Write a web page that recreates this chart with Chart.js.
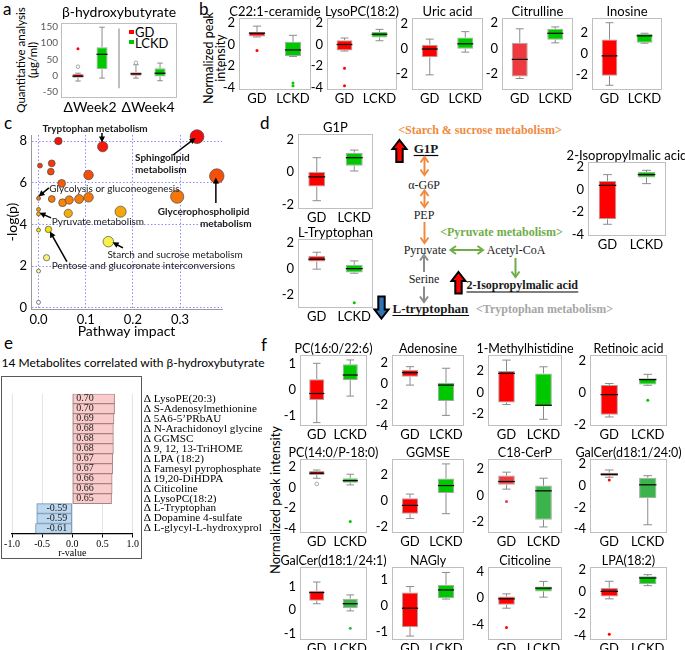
<!DOCTYPE html>
<html>
<head>
<meta charset="utf-8">
<script src="https://cdn.jsdelivr.net/npm/chart.js@4.4.1/dist/chart.umd.min.js"></script>
<style>
  html, body { margin: 0; padding: 0; background: #fff; }
  #page { position: relative; width: 685px; height: 650px; overflow: hidden; font-family: Lato, "Open Sans", sans-serif; color: #000; }
  #page canvas { position: absolute; }
  .lbl { position: absolute; white-space: nowrap; line-height: 1; }
  .letter { font-size: 17px; }
  .rot { transform: translate(-50%, -50%) rotate(-90deg); text-align: center; font-size: 13px; }
  #pathway { position: absolute; left: 0; top: 0; pointer-events: none; }
</style>
</head>
<body>
<div id="page">
  <div class="lbl letter" style="left:3px;top:0px">a</div>
  <div class="lbl letter" style="left:199px;top:0px">b</div>
  <div class="lbl letter" style="left:4px;top:114px">c</div>
  <div class="lbl letter" style="left:260px;top:114px">d</div>
  <div class="lbl letter" style="left:4px;top:334px">e</div>
  <div class="lbl letter" style="left:261px;top:336px">f</div>

  <!-- legend of panel a -->
  <div class="lbl" style="left:129px;top:30px;width:5px;height:4px;background:#ff0000"></div>
  <div class="lbl" style="left:135px;top:26px;font-size:13px">GD</div>
  <div class="lbl" style="left:129px;top:40px;width:5px;height:4px;background:#00c800"></div>
  <div class="lbl" style="left:135px;top:36.5px;font-size:13px">LCKD</div>

  <div class="lbl rot" style="left:27px;top:60px;line-height:12px;font-size:11.5px">Quantitative analysis<br>(μg/ml)</div>
  <div class="lbl rot" style="left:215px;top:58px;line-height:12px;font-size:12.5px">Normalized peak<br>intensity</div>
  <div class="lbl rot" style="left:275px;top:500px">Normalized peak intensity</div>
  <div class="lbl" style="left:133px;top:363px;transform:translate(-50%,-50%);font-size:12px">14 Metabolites correlated with β-hydroxybutyrate</div>
  <div class="lbl" style="left:1px;top:376px;width:139px;height:181px;border:1.5px solid #595959"></div>

  <svg id="pathway" width="685" height="650"></svg>
</div>

<script>
Chart.defaults.font.family = 'Lato, "Open Sans", sans-serif';
Chart.defaults.color = '#000';

const SERIF = '"Liberation Serif", "Times New Roman", serif';
const RED = '#ff0000', GREEN = '#00c800';
const GROUPS = ['GD', 'LCKD'];

// box stats are [min, q1, median, q3, max]

// ---- a: beta-hydroxybutyrate
const aWeeks = ['ΔWeek2', 'ΔWeek4'];
const aYTicks = [-50, 0, 50, 100, 150];
const aGD = [[-16, -6, -1, 6, 8], [-7, 0, 6, 11, 34]];
const aLCKD = [[-7, 20, 66, 88, 149], [-15, -2, 8, 23, 39]];
const aGDOut = [[83], []];
const aGDMild = [[28], [40]];

// ---- b
const bTitles = ['C22:1-ceramide', 'LysoPC(18:2)', 'Uric acid', 'Citrulline', 'Inosine'];
const bGD = [[0.7, 0.75, 1.05, 1.15, 1.7], [-0.6, -0.55, 0, 0.4, 0.6], [-2.08, -0.67, 0, 0.35, 0.8],
             [-2.35, -2.2, -0.85, 0.45, 1.55], [-2.95, -2.05, -0.15, 1.4, 3.0]];
const bLCKD = [[-1.1, -1.05, -0.5, 0.25, 0.85], [0.35, 0.65, 0.95, 1.15, 1.4], [-0.25, 0.02, 0.42, 0.93, 1.4],
               [0.45, 0.7, 1.2, 1.55, 1.7], [1.05, 1.1, 1.75, 1.95, 2.0]];
const bGDOut = [[-0.55], [-2.2, -3.8], [], [], []];
const bLCKDOut = [[-3.55, -3.8], [], [], [], []];
const bYTicks = [[-4, -2, 0, 2], [-4, -2, 0, 2], [-2, 0, 2], [-2, 0, 2], [-2, 0, 2]];

// ---- c: pathway analysis
const cImpact = [0.042, 0.136, 0.336, 0.378, 0.003, 0.028, 0.026, 0.049, 0.106, 0, 0.028, 0.051, 0.065,
                 0.086, 0.106, 0.294, 0.063, 0.174, 0, 0, 0, 0.021, 0.148, 0.017, 0, 0];
const cLogP = [8.0, 7.73, 8.21, 6.32, 6.82, 6.93, 6.53, 5.97, 6.37, 5.25, 5.22, 5.04, 5.17,
               5.22, 5.30, 5.33, 4.53, 4.61, 4.72, 4.50, 3.73, 3.76, 3.17, 2.40, 1.76, 0.26];
const cXTicks = [0, 0.1, 0.2, 0.3];
const cYTicks = [0, 2, 4, 6, 8];
const cNotes = [
  { lines: ['Tryptophan metabolism'], at: [0.12, 8.61], align: 'center', bold: true, from: [0.1345, 8.39], to: [0.1345, 7.93] },
  { lines: ['Sphingolipid', 'metabolism'], at: [0.2045, 7.2], align: 'left', bold: true, from: [0.285, 7.33], to: [0.333, 8.15] },
  { lines: ['Glycerophospholipid'], at: [0.253, 4.61], align: 'left', bold: true, from: [0.376, 5.03], to: [0.376, 6.25] },
  { lines: ['metabolism'], at: [0.4517, 4.02], align: 'right', bold: true },
  { lines: ['Glycolysis or gluconeogenesis'], at: [0.0229, 5.73], align: 'left', from: [0.022, 5.75], to: [0.0, 5.34] },
  { lines: ['Pyruvate metabolism'], at: [0.028, 4.13], align: 'left', from: [0.0265, 4.31], to: [0.002, 4.56] },
  { lines: ['Starch and sucrose metabolism'], at: [0.146, 2.56], align: 'left', from: [0.179, 2.87], to: [0.157, 3.14] },
  { lines: ['Pentose and glucoronate interconversions'], at: [0.028, 2.0], align: 'left', from: [0.06, 2.21], to: [0.024, 3.66] }
];

// ---- d
const dTitles = ['G1P', 'L-Tryptophan', '2-Isopropylmalic acid'];
const dGD = [[-1.77, -0.9, -0.3, 0.0, 0.88], [-0.04, 0.54, 0.72, 0.97, 1.25], [-3.07, -2.63, 0.35, 0.73, 1.29]];
const dLCKD = [[0.06, 0.39, 0.88, 1.19, 1.35], [-0.35, -0.3, 0, 0.29, 0.59], [0.5, 1.03, 1.29, 1.52, 1.67]];
const dLCKDOut = [[], [-2.6], []];
const dYTicks = [[-2, 0, 2], [-2, 0, 2], [-4, -2, 0, 2]];

// ---- e
const eLabels = ['Δ LysoPE(20:3)', 'Δ S-Adenosylmethionine', 'Δ 5A6-5’PRbAU', 'Δ N-Arachidonoyl glycine', 'Δ GGMSC',
  'Δ 9, 12, 13-TriHOME', 'Δ LPA (18:2)', 'Δ Farnesyl pyrophosphate', 'Δ 19,20-DiHDPA', 'Δ Citicoline',
  'Δ LysoPC(18:2)', 'Δ L-Tryptophan', 'Δ Dopamine 4-sulfate', 'Δ L-glycyl-L-hydroxyproline'];
const eR = [0.70, 0.70, 0.69, 0.68, 0.68, 0.68, 0.67, 0.67, 0.66, 0.66, 0.65, -0.59, -0.59, -0.61];

// ---- f
const fTitles = ['PC(16:0/22:6)', 'Adenosine', '1-Methylhistidine', 'Retinoic acid', 'PC(14:0/P-18:0)', 'GGMSE',
  'C18-CerP', 'GalCer(d18:1/24:0)', 'GalCer(d18:1/24:1)', 'NAGly', 'Citicoline', 'LPA(18:2)'];
const fGD = [[-1.27, -0.4, -0.15, 0.4, 1.01], [-0.14, 0.65, 1.03, 1.29, 1.6], [-1.13, -0.94, 1.8, 2.02, 3.05],
  [-1.52, -1.38, -0.13, 0.46, 0.56], [0.88, 1.2, 1.37, 1.59, 1.68], [-1.38, -1.0, -0.36, 0.2, 0.52],
  [0.47, 0.8, 1.05, 1.5, 1.76], [0.8, 0.92, 1.07, 1.22, 1.47], [0.27, 0.4, 0.74, 0.81, 1.18],
  [-1.17, -0.83, -0.1, 0.5, 0.73], [-1.5, -1.0, -0.1, 0.24, 0.64], [-0.6, -0.38, 0.08, 0.39, 1.0]];
const fLCKD = [[-0.25, 0.37, 0.56, 0.97, 1.14], [-3.0, -1.64, -0.14, 0.08, 1.45], [-2.52, -1.29, -1.2, 1.8, 2.42],
  [0.45, 0.5, 0.8, 0.88, 1.13], [0.24, 0.46, 0.65, 0.88, 1.27], [-1.0, 0.6, 1.18, 1.72, 2.86],
  [-2.4, -1.86, 0.34, 0.74, 1.3], [-3.58, -1.13, 0.1, 0.76, 0.94], [-0.03, 0.08, 0.27, 0.48, 0.64],
  [0.25, 0.28, 0.6, 0.8, 1.27], [0.15, 1.0, 1.5, 1.75, 2.5], [0.6, 0.75, 1.3, 1.45, 1.6]];
const fGDOut = [[], [], [], [], [], [], [-0.47], [0.55], [], [], [-4.4], [-3.83]];
const fGDMild = [[], [], [], [], [0.34], [], [], [], [], [], [], []];
const fLCKDOut = [[], [], [], [-0.48], [-3.3], [], [], [], [-0.76], [], [], []];
const fYTicks = [[-1, 0, 1], [-4, -2, 0, 2], [-2, 0, 2], [-2, 0, 2], [-4, -2, 0, 2], [-2, 0, 2],
  [-2, 0, 2], [-4, -2, 0, 2], [-1, 0, 1], [-1, 0, 1], [-4, 0, 4], [-4, -2, 0, 2]];

// ---------- layout (pixel frames of plot areas and axis limits)
const B_FRAMES = [[239, 18, 311, 90], [327, 18, 397, 90], [412, 18, 483, 90], [502, 18, 573, 90], [592, 18, 662, 90]];
const B_RANGE = [[-4.2, 2.45], [-4.2, 2.45], [-3.3, 2.5], [-3.25, 2.4], [-3.4, 3.45]];
const D_FRAMES = [[298, 134, 373, 209], [298, 239, 373, 308], [588, 162, 666, 236]];
const D_RANGE = [[-2.28, 2.34], [-3.0, 2.26], [-4.1, 2.4]];
const F_ROWS = [[355, 426], [459, 533], [567, 640]];
const F_COLS = [[300, 367], [392, 464], [488, 562], [590, 667]];
const F_RANGE = [[-1.4, 1.33], [-4.0, 2.7], [-3.15, 3.53], [-2.08, 2.33], [-4.4, 2.74], [-2.5, 3.24],
  [-2.86, 2.76], [-4.34, 2.48], [-1.25, 1.81], [-1.32, 1.48], [-6.25, 4.65], [-4.35, 2.3]];
const F_COLORS = { 6: ['#ee3a3e', '#3cb44b'], 7: [RED, '#3cb44b'], 8: [RED, '#3cb44b'] };

function addCanvas(left, top, w, h) {
  const cv = document.createElement('canvas');
  cv.width = Math.round(w); cv.height = Math.round(h);
  cv.style.left = Math.round(left) + 'px'; cv.style.top = Math.round(top) + 'px';
  cv.style.width = Math.round(w) + 'px'; cv.style.height = Math.round(h) + 'px';
  document.getElementById('page').appendChild(cv);
  return cv;
}

// draws whiskers, medians, outliers, the frame and the panel title on top of the floating bars
const boxPlugin = {
  id: 'boxes',
  afterDatasetsDraw(chart, args, opts) {
    const { ctx, chartArea: a } = chart;
    const y = chart.scales.y, xs = chart.scales.x;
    const py = v => y.getPixelForValue(v);
    ctx.save();
    if (opts.frame) {
      ctx.strokeStyle = '#bfbfbf'; ctx.lineWidth = 1;
      ctx.strokeRect(Math.round(a.left) + 0.5, Math.round(a.top) + 0.5, Math.round(a.width) - 1, Math.round(a.height) - 1);
    }
    if (opts.sep) {
      ctx.strokeStyle = '#bfbfbf'; ctx.lineWidth = 2;
      const sx = xs.getPixelForValue(0.5);
      ctx.beginPath(); ctx.moveTo(sx, py(opts.sep[0])); ctx.lineTo(sx, py(opts.sep[1])); ctx.stroke();
    }
    chart.data.datasets.forEach((ds, di) => {
      chart.getDatasetMeta(di).data.forEach((bar, i) => {
        const s = ds.stats[i];
        const x = bar.x, w = bar.width, cap = w * 0.5;
        ctx.strokeStyle = '#8c8c8c'; ctx.lineWidth = 1;
        ctx.beginPath();
        ctx.moveTo(x, py(s[4])); ctx.lineTo(x, py(s[3]));
        ctx.moveTo(x, py(s[1])); ctx.lineTo(x, py(s[0]));
        ctx.moveTo(x - cap / 2, py(s[4])); ctx.lineTo(x + cap / 2, py(s[4]));
        ctx.moveTo(x - cap / 2, py(s[0])); ctx.lineTo(x + cap / 2, py(s[0]));
        ctx.stroke();
        ctx.strokeStyle = '#000'; ctx.lineWidth = 1.2;
        ctx.beginPath(); ctx.moveTo(x - w / 2, py(s[2])); ctx.lineTo(x + w / 2, py(s[2])); ctx.stroke();
        ctx.fillStyle = Array.isArray(ds.backgroundColor) ? ds.backgroundColor[i] : ds.backgroundColor;
        ((ds.outliers && ds.outliers[i]) || []).forEach(v => {
          ctx.beginPath(); ctx.arc(x, py(v), 1.5, 0, Math.PI * 2); ctx.fill();
        });
        ctx.strokeStyle = '#a6a6a6'; ctx.lineWidth = 1;
        ((ds.mild && ds.mild[i]) || []).forEach(v => {
          ctx.beginPath(); ctx.arc(x, py(v), 1.8, 0, Math.PI * 2); ctx.stroke();
        });
      });
    });
    if (opts.title) {
      ctx.fillStyle = '#000';
      ctx.font = (opts.size || 13) + 'px Lato, "Open Sans", sans-serif';
      ctx.textAlign = 'center'; ctx.textBaseline = 'middle';
      ctx.fillText(opts.title, (a.left + a.right) / 2, a.top - (opts.gap || 6.5));
    }
    ctx.restore();
  }
};

function axisY(range, ticks, width, font, color, pad) {
  return {
    min: range[0], max: range[1],
    afterBuildTicks: s => { s.ticks = ticks.map(v => ({ value: v })); },
    grid: { display: false, drawTicks: false }, border: { display: false },
    ticks: { font: font || { size: 13 }, color: color || '#000', padding: pad || 4 },
    afterFit: s => { s.width = width; }
  };
}

function axisX(size, height) {
  return {
    grid: { display: false, drawTicks: false }, border: { display: false },
    ticks: { font: { size }, color: '#000', padding: 1, autoSkip: false, maxRotation: 0, minRotation: 0 },
    afterFit: s => { s.height = height; }
  };
}

function boxChart(o) {
  const YW = 26, TOP = 16, XH = 18, EX = 30;
  const [l, t, r, b] = o.frame;
  const cv = addCanvas(l - YW - EX, t - TOP, r - l + YW + 2 * EX, b - t + TOP + XH);
  const colors = o.colors || [RED, GREEN];
  return new Chart(cv, {
    type: 'bar',
    data: {
      labels: GROUPS,
      datasets: [{
        data: [[o.gd[1], o.gd[3]], [o.lckd[1], o.lckd[3]]],
        stats: [o.gd, o.lckd],
        outliers: [o.gdOut || [], o.lckdOut || []],
        mild: [o.gdMild || [], []],
        backgroundColor: colors,
        borderColor: '#a6a6a6', borderWidth: 1, borderSkipped: false,
        barPercentage: 0.45, categoryPercentage: 1
      }]
    },
    options: {
      responsive: false, animation: false, devicePixelRatio: 1,
      layout: { padding: { top: TOP, right: EX, left: EX, bottom: 0 } },
      plugins: { legend: { display: false }, tooltip: { enabled: false }, boxes: { title: o.title, frame: true, size: o.size } },
      scales: { x: axisX(13, XH), y: axisY(o.range, o.ticks, YW) }
    },
    plugins: [boxPlugin]
  });
}

// ---------- a
new Chart(addCanvas(0, 0, 180, 115), {
  type: 'bar',
  data: {
    labels: aWeeks,
    datasets: [
      { label: 'GD', data: aGD.map(s => [s[1], s[3]]), stats: aGD, outliers: aGDOut, mild: aGDMild,
        backgroundColor: RED, borderColor: '#a6a6a6', borderWidth: 1, borderSkipped: false,
        barPercentage: 0.46, categoryPercentage: 0.83 },
      { label: 'LCKD', data: aLCKD.map(s => [s[1], s[3]]), stats: aLCKD,
        backgroundColor: GREEN, borderColor: '#a6a6a6', borderWidth: 1, borderSkipped: false,
        barPercentage: 0.46, categoryPercentage: 0.83 }
    ]
  },
  options: {
    responsive: false, animation: false, devicePixelRatio: 1,
    layout: { padding: { top: 23, right: 3 } },
    plugins: { legend: { display: false }, tooltip: { enabled: false },
      boxes: { title: 'β-hydroxybutyrate', frame: true, size: 14, gap: 11, sep: [145, -38] } },
    scales: { x: axisX(14, 17), y: axisY([-68, 162], aYTicks, 61, { size: 10 }, '#595959', 3) }
  },
  plugins: [boxPlugin]
});

// ---------- b
bTitles.forEach((title, i) => boxChart({
  frame: B_FRAMES[i], title, gd: bGD[i], lckd: bLCKD[i], gdOut: bGDOut[i], lckdOut: bLCKDOut[i],
  range: B_RANGE[i], ticks: bYTicks[i], colors: i === 3 ? ['#ee3a3e', GREEN] : null
}));

// ---------- d boxplots
dTitles.forEach((title, i) => boxChart({
  frame: D_FRAMES[i], title, gd: dGD[i], lckd: dLCKD[i], lckdOut: dLCKDOut[i],
  range: D_RANGE[i], ticks: dYTicks[i]
}));

// ---------- f
fTitles.forEach((title, i) => {
  const row = Math.floor(i / 4), col = i % 4;
  boxChart({
    frame: [F_COLS[col][0], F_ROWS[row][0], F_COLS[col][1], F_ROWS[row][1]], title, size: 12.5,
    gd: fGD[i], lckd: fLCKD[i], gdOut: fGDOut[i], gdMild: fGDMild[i], lckdOut: fLCKDOut[i],
    range: F_RANGE[i], ticks: fYTicks[i], colors: F_COLORS[i]
  });
});

// ---------- c
function heat(v) {
  const ys = [8.2, 6.9, 5.25, 4.6, 3.7], hs = [0, 12, 28, 40, 56];
  let h = 0, l = 50;
  if (v >= ys[0]) h = 0;
  else if (v >= ys[ys.length - 1]) {
    for (let i = 0; i < ys.length - 1; i++) {
      if (v <= ys[i] && v >= ys[i + 1]) h = hs[i] + (hs[i + 1] - hs[i]) * (ys[i] - v) / (ys[i] - ys[i + 1]);
    }
  } else { h = 58; l = Math.min(100, 55 + (3.7 - v) * 14); }
  return 'hsl(' + h + ', 92%, ' + l + '%)';
}

const notesPlugin = {
  id: 'notes',
  afterDraw(chart) {
    const { ctx, scales: { x, y } } = chart;
    ctx.save();
    ctx.fillStyle = '#1a1a1a'; ctx.strokeStyle = '#000'; ctx.lineWidth = 1.5;
    cNotes.forEach(n => {
      ctx.font = (n.bold ? 'bold ' : '') + '10px Lato, "Open Sans", sans-serif';
      ctx.textAlign = n.align; ctx.textBaseline = 'middle';
      n.lines.forEach((ln, k) => ctx.fillText(ln, x.getPixelForValue(n.at[0]), y.getPixelForValue(n.at[1]) + k * 11.6));
      if (n.from) {
        const x1 = x.getPixelForValue(n.from[0]), y1 = y.getPixelForValue(n.from[1]);
        const x2 = x.getPixelForValue(n.to[0]), y2 = y.getPixelForValue(n.to[1]);
        const ang = Math.atan2(y2 - y1, x2 - x1);
        ctx.beginPath(); ctx.moveTo(x1, y1); ctx.lineTo(x2 - 4 * Math.cos(ang), y2 - 4 * Math.sin(ang)); ctx.stroke();
        ctx.beginPath();
        ctx.moveTo(x2, y2);
        ctx.lineTo(x2 - 6 * Math.cos(ang) + 3 * Math.sin(ang), y2 - 6 * Math.sin(ang) - 3 * Math.cos(ang));
        ctx.lineTo(x2 - 6 * Math.cos(ang) - 3 * Math.sin(ang), y2 - 6 * Math.sin(ang) + 3 * Math.cos(ang));
        ctx.closePath(); ctx.fillStyle = '#000'; ctx.fill(); ctx.fillStyle = '#1a1a1a';
      }
    });
    ctx.restore();
  }
};

(function () {
  const cv = addCanvas(0, 118, 262, 222);
  const grid = { color: 'rgba(110,110,255,0.8)', drawTicks: false, lineWidth: 1 };
  new Chart(cv, {
    type: 'bubble',
    data: {
      datasets: [{
        data: cImpact.map((v, i) => ({ x: v, y: cLogP[i], r: 2 + 8.5 * Math.sqrt(v) })),
        backgroundColor: c => heat(c.raw ? c.raw.y : 0),
        borderColor: 'rgba(70,70,70,0.85)', borderWidth: 0.8, clip: false
      }]
    },
    options: {
      responsive: false, animation: false, devicePixelRatio: 1,
      layout: { padding: { top: 17, right: 40 } },
      plugins: { legend: { display: false }, tooltip: { enabled: false } },
      scales: {
        x: {
          type: 'linear', min: -0.016, max: 0.389,
          afterBuildTicks: s => { s.ticks = cXTicks.map(v => ({ value: v })); },
          grid, border: { display: true, color: '#9a9a9a', dash: [1.5, 2] },
          ticks: { font: { size: 13 }, color: '#000', padding: 3, callback: v => v.toFixed(1) },
          title: { display: true, text: 'Pathway impact', font: { size: 14 }, padding: { top: 0, bottom: 0 } },
          afterFit: s => { s.height = 31; }
        },
        y: {
          min: -0.06, max: 8.29,
          afterBuildTicks: s => { s.ticks = cYTicks.map(v => ({ value: v })); },
          grid, border: { display: true, color: '#9a9a9a', dash: [1.5, 2] },
          ticks: { font: { size: 13 }, color: '#000', padding: 4 },
          title: { display: true, text: '-log(p)', font: { size: 14 }, padding: { top: 4, bottom: 0 } },
          afterFit: s => { s.width = 31; }
        }
      }
    },
    plugins: [notesPlugin]
  });
})();

// ---------- e
const eValuePlugin = {
  id: 'evalues',
  afterDatasetsDraw(chart) {
    const { ctx } = chart;
    const x0 = chart.scales.x.getPixelForValue(0);
    ctx.save();
    ctx.font = '10px ' + SERIF; ctx.fillStyle = '#222'; ctx.textBaseline = 'middle';
    chart.getDatasetMeta(0).data.forEach((bar, i) => {
      const v = eR[i];
      ctx.textAlign = v >= 0 ? 'left' : 'right';
      ctx.fillText(v.toFixed(2), v >= 0 ? x0 + 4 : x0 - 5, bar.y);
    });
    ctx.restore();
  }
};

(function () {
  const cv = addCanvas(0, 376, 262, 184);
  new Chart(cv, {
    type: 'bar',
    data: {
      labels: eLabels,
      datasets: [{
        data: eR,
        backgroundColor: eR.map(v => v >= 0 ? '#f9cbcb' : '#bdd7ee'),
        borderColor: eR.map(v => v >= 0 ? '#a88484' : '#6f8fb5'),
        borderWidth: 1, borderSkipped: false, barPercentage: 1, categoryPercentage: 1
      }]
    },
    options: {
      indexAxis: 'y', responsive: false, animation: false, devicePixelRatio: 1,
      layout: { padding: { left: 12, top: 7 } },
      plugins: { legend: { display: false }, tooltip: { enabled: false } },
      scales: {
        x: {
          min: -1, max: 1,
          ticks: { stepSize: 0.5, callback: v => v.toFixed(1), font: { family: SERIF, size: 10 }, color: '#000', padding: 1 },
          grid: { color: '#e4e4e4', tickColor: '#000', tickLength: 4 },
          border: { color: '#000', width: 1.3 },
          title: { display: true, text: 'r-value', font: { family: SERIF, size: 10 }, padding: { top: 0, bottom: 1 } },
          afterFit: s => { s.height = 26.5; }
        },
        y: {
          position: 'right',
          grid: { display: false, drawTicks: false }, border: { display: false },
          ticks: { font: { family: SERIF, size: 11.2 }, color: '#000', padding: 11, autoSkip: false },
          afterFit: s => { s.width = 129.3; }
        }
      }
    },
    plugins: [eValuePlugin]
  });
})();

// ---------- d pathway sketch
const svg = document.getElementById('pathway');
function sv(tag, attrs, txt) {
  const el = document.createElementNS('http://www.w3.org/2000/svg', tag);
  for (const k in attrs) el.setAttribute(k, attrs[k]);
  if (txt) el.textContent = txt;
  svg.appendChild(el);
  return el;
}
function word(txt, x, y, opt) {
  opt = opt || {};
  const el = sv('text', {
    x, y, 'font-family': SERIF, 'font-size': opt.size || 12, 'font-weight': opt.bold ? 'bold' : 'normal',
    fill: opt.color || '#1a1a1a', 'text-anchor': opt.anchor || 'middle', 'dominant-baseline': 'central'
  }, txt);
  if (opt.underline) {
    const bb = el.getBBox();
    sv('line', { x1: bb.x, x2: bb.x + bb.width, y1: y + 7, y2: y + 7, stroke: '#000', 'stroke-width': 1.2 });
  }
}
function head(x, y, fx, fy, color) {
  const ang = Math.atan2(y - fy, x - fx), L = 5.5, W = 4;
  const p = [[x - L * Math.cos(ang) + W * Math.sin(ang), y - L * Math.sin(ang) - W * Math.cos(ang)], [x, y],
             [x - L * Math.cos(ang) - W * Math.sin(ang), y - L * Math.sin(ang) + W * Math.cos(ang)]];
  sv('polyline', { points: p.map(q => q.join(',')).join(' '), fill: 'none', stroke: color, 'stroke-width': 2 });
}
function arrow(x1, y1, x2, y2, color, both) {
  sv('line', { x1, y1, x2, y2, stroke: color, 'stroke-width': 2 });
  head(x2, y2, x1, y1, color);
  if (both) head(x1, y1, x2, y2, color);
}
function block(cx, y1, y2, fill, up) {
  const hw = 7, sw = 3.2, hh = 9;
  const pts = up
    ? [[cx, y1], [cx + hw, y1 + hh], [cx + sw, y1 + hh], [cx + sw, y2], [cx - sw, y2], [cx - sw, y1 + hh], [cx - hw, y1 + hh]]
    : [[cx, y2], [cx + hw, y2 - hh], [cx + sw, y2 - hh], [cx + sw, y1], [cx - sw, y1], [cx - sw, y2 - hh], [cx - hw, y2 - hh]];
  sv('polygon', { points: pts.map(q => q.join(',')).join(' '), fill, stroke: '#000', 'stroke-width': 2 });
}
const ORANGE = '#f08a3e', PGREEN = '#70ad47', GRAY = '#8c8c8c';
word('<Starch & sucrose metabolism>', 480, 130, { bold: true, color: ORANGE });
block(399.5, 140, 162, '#ff0000', true);
word('G1P', 426, 148.5, { bold: true, size: 13, underline: true });
arrow(424.5, 157, 424.5, 175, ORANGE, true);
word('α-G6P', 424, 184.5);
arrow(424.5, 190.5, 424.5, 207, ORANGE, true);
word('PEP', 424, 215);
arrow(424.5, 222, 424.5, 243, ORANGE, false);
word('<Pyruvate metabolism>', 501.5, 231.5, { bold: true, color: PGREEN });
word('Pyruvate', 425, 250);
arrow(450.5, 250, 483, 250, PGREEN, true);
word('Acetyl-CoA', 516, 250);
arrow(515.5, 258, 515.5, 277, PGREEN, false);
arrow(424, 272, 424, 255, GRAY, false);
word('Serine', 424, 278.5);
arrow(424, 286.5, 424, 302, GRAY, false);
block(458.5, 272, 293.5, '#ff0000', true);
word('2-Isopropylmalic acid', 466.5, 285, { bold: true, anchor: 'start', underline: true });
block(381.5, 296.5, 318.5, '#2e75b6', false);
word('L-tryptophan', 392.5, 308.5, { bold: true, size: 13, anchor: 'start', underline: true });
word('<Tryptophan metabolism>', 476, 308.5, { bold: true, color: '#a6a6a6', anchor: 'start' });
</script>
</body>
</html>
